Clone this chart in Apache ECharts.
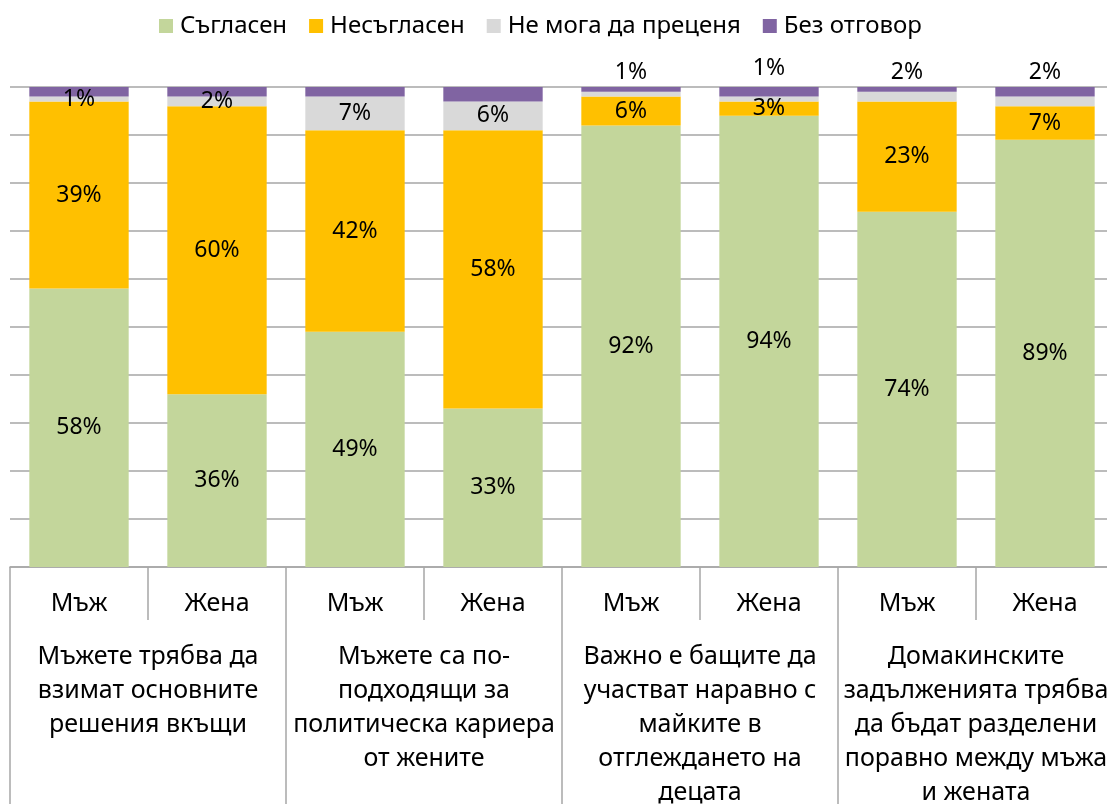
<!DOCTYPE html>
<html>
<head>
<meta charset="utf-8">
<script src="https://cdn.jsdelivr.net/npm/echarts@6/dist/echarts.min.js"></script>
<style>
html,body{margin:0;padding:0;background:#fff;}
#chart{width:1107px;height:804px;}
</style>
</head>
<body>
<div id="chart"></div>
<script>
// ---- data ----
const subCategories = ['Мъж','Жена','Мъж','Жена','Мъж','Жена','Мъж','Жена'];
const groupCategories = [
  'Мъжете трябва да\nвзимат основните\nрешения вкъщи',
  'Мъжете са по-\nподходящи за\nполитическа кариера\nот жените',
  'Важно е бащите да\nучастват наравно с\nмайките в\nотглеждането на\nдецата',
  'Домакинските\nзадълженията трябва\nда бъдат разделени\nпоравно между мъжа\nи жената'
];
const seriesNames = ['Съгласен','Несъгласен','Не мога да преценя','Без отговор'];
const agree    = [58, 36, 49, 33, 92, 94, 74, 89];
const disagree = [39, 60, 42, 58,  6,  3, 23,  7];
const cannot   = [ 1,  2,  7,  6,  1,  1,  2,  2];
const noAnswer = [ 2,  2,  2,  3,  1,  2,  1,  2];

// ---- styling ----
const FONT = 'Noto Sans';
const colors = ['#c3d69b','#ffc000','#d9d9d9','#8064a2'];
const gridGray = '#a6a6a6';
// gray labels drawn above the bar for these bars (index -> distance)
const aboveDist = {4: 8, 5: 17, 6: 8, 7: 13};

const labelBase = {
  show: true, position: 'inside', color: '#000',
  fontFamily: FONT, fontSize: 23,
  formatter: p => p.value + '%'
};

function mkSeries(name, values, idx) {
  let data = values;
  if (idx === 2) {
    data = values.map((v, i) => aboveDist[i] !== undefined
      ? { value: v, label: { position: 'top', distance: aboveDist[i] } }
      : v);
  }
  return {
    name: name, type: 'bar', stack: 'total',
    barCategoryGap: '28%',
    itemStyle: { color: colors[idx] },
    label: idx === 3 ? { show: false } : labelBase,
    emphasis: { disabled: true },
    data: data
  };
}

const chart = echarts.init(document.getElementById('chart'), null, { renderer: 'canvas' });
chart.setOption({
  animation: false,
  textStyle: { fontFamily: FONT },
  legend: {
    left: 154, top: 9,
    itemWidth: 14, itemHeight: 14, itemGap: 22,
    icon: 'rect',
    textStyle: { fontFamily: FONT, fontSize: 24, color: '#000', padding: [0,0,0,2] },
    data: seriesNames
  },
  grid: { left: 10, right: -7, top: 87, bottom: 237, containLabel: false, outerBoundsMode: 'none' },
  xAxis: [
    {
      type: 'category', position: 'bottom', data: subCategories,
      axisLine: { show: true, lineStyle: { color: gridGray, width: 1.5 } },
      axisTick: { show: true, alignWithLabel: false, interval: 0, length: 53,
                  lineStyle: { color: gridGray, width: 1.5 } },
      axisLabel: { interval: 0, margin: 24, color: '#000', fontFamily: FONT, fontSize: 25 }
    },
    {
      type: 'category', position: 'bottom', offset: 0, data: groupCategories,
      axisLine: { show: false },
      axisTick: { show: true, alignWithLabel: false, interval: 0, length: 240,
                  lineStyle: { color: gridGray, width: 1.5 } },
      axisLabel: { interval: 0, margin: 73, color: '#000', fontFamily: FONT,
                   fontSize: 25, lineHeight: 34, align: 'center' }
    }
  ],
  yAxis: {
    type: 'value', min: 0, max: 100, interval: 10,
    axisLabel: { show: false }, axisLine: { show: false }, axisTick: { show: false },
    splitLine: { show: true, lineStyle: { color: gridGray, width: 1.5 } }
  },
  series: [
    mkSeries(seriesNames[0], agree, 0),
    mkSeries(seriesNames[1], disagree, 1),
    mkSeries(seriesNames[2], cannot, 2),
    mkSeries(seriesNames[3], noAnswer, 3)
  ]
});
</script>
</body>
</html>
